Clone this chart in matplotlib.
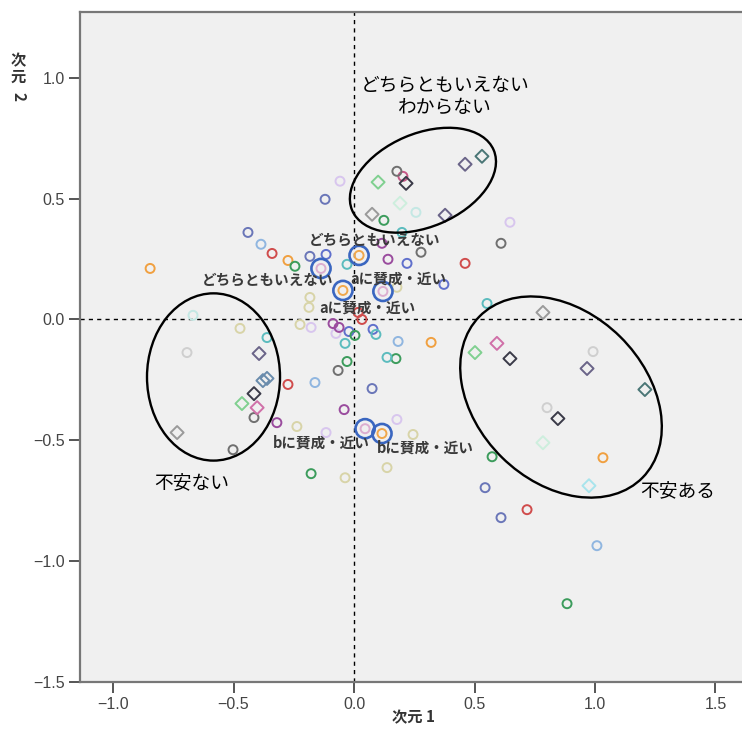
import matplotlib.pyplot as plt
from matplotlib.patches import Ellipse

plt.rcParams['font.family'] = ['Noto Sans CJK JP', 'DejaVu Sans']

# category points (dimension 1, dimension 2), grouped by variable colour
slate_x = [-0.120, -0.440, -0.183, 0.075, 0.544, 0.610]
slate_y = [0.497, 0.360, 0.261, -0.286, -0.696, -0.820]
blue_x = [-0.116, 0.220, 0.373, -0.021, 0.079]
blue_y = [0.269, 0.232, 0.145, -0.050, -0.041]
lightblue_x = [-0.386, -0.162, 0.183, 1.008]
lightblue_y = [0.311, -0.261, -0.091, -0.936]
red_x = [-0.340, 0.033, -0.274, 0.461, 0.718, 0.017]
red_y = [0.273, 0.000, -0.269, 0.232, -0.787, 0.029]
orange_x = [-0.274, -0.846, 0.320, 1.033]
orange_y = [0.244, 0.211, -0.095, -0.572]
green_x = [-0.245, 0.124, 0.004, -0.029, 0.174, -0.178, 0.573, 0.884]
green_y = [0.220, 0.410, -0.066, -0.174, -0.162, -0.638, -0.568, -1.176]
teal_x = [-0.029, -0.361, -0.037, 0.091, 0.137, 0.199, 0.552]
teal_y = [0.228, -0.075, -0.099, -0.062, -0.157, 0.360, 0.066]
paleteal_x = [-0.668, 0.257]
paleteal_y = [0.017, 0.443]
khaki_x = [-0.183, -0.187, -0.224, -0.473, -0.237, -0.037, 0.245, 0.137, 0.178]
khaki_y = [0.091, 0.050, -0.021, -0.037, -0.443, -0.655, -0.476, -0.613, 0.133]
lavender_x = [-0.058, -0.178, -0.075, -0.116, 0.178, 0.647]
lavender_y = [0.572, -0.033, -0.058, -0.468, -0.414, 0.402]
purple_x = [-0.087, -0.062, -0.041, -0.320, 0.116, 0.141]
purple_y = [-0.017, -0.033, -0.373, -0.427, 0.315, 0.249]
pink_x = [0.203]
pink_y = [0.592]
gray_x = [0.178, 0.278, 0.610, -0.066, -0.415, -0.502]
gray_y = [0.613, 0.278, 0.315, -0.211, -0.406, -0.539]
palegray_x = [-0.693, 0.992, 0.801]
palegray_y = [-0.137, -0.133, -0.365]

# diamonds
dark_dx = [0.216, -0.415, 0.647, 0.846]
dark_dy = [0.563, -0.307, -0.162, -0.410]
slate_dx = [-0.394, 0.378, 0.967, 0.461]
slate_dy = [-0.141, 0.431, -0.203, 0.642]
tealdark_dx = [0.531, 1.207]
tealdark_dy = [0.675, -0.290]
gray_dx = [0.075, 0.784, -0.734]
gray_dy = [0.435, 0.029, -0.468]
green_dx = [0.100, -0.465, 0.502]
green_dy = [0.568, -0.348, -0.137]
palegreen_dx = [0.191, 0.784]
palegreen_dy = [0.481, -0.510]
pink_dx = [-0.402, 0.593]
pink_dy = [-0.365, -0.099]
steel_dx = [-0.378, -0.361]
steel_dy = [-0.253, -0.244]
cyan_dx = [0.975]
cyan_dy = [-0.688]

# response categories of the supplementary variables (big rings)
ring_x = [-0.137, 0.021, -0.046, 0.120, 0.046, 0.116]
ring_y = [0.211, 0.265, 0.120, 0.116, -0.452, -0.472]
ring_inner = ['#dcaed0', '#f0a84c', '#f0a84c', '#dcaed0', '#dcaed0', '#f0a84c']
ring_labels = ['どちらともいえない', 'どちらともいえない', 'aに賛成・近い', 'aに賛成・近い',
               'bに賛成・近い', 'bに賛成・近い']
label_x = [-0.357, 0.087, 0.054, 0.183, -0.137, 0.295]
label_y = [0.166, 0.331, 0.050, 0.170, -0.510, -0.530]

circle_groups = [
    (slate_x, slate_y, '#6a76b8'),
    (blue_x, blue_y, '#6070cc'),
    (lightblue_x, lightblue_y, '#90b6e0'),
    (red_x, red_y, '#d04c4c'),
    (orange_x, orange_y, '#f0a040'),
    (green_x, green_y, '#3c9c5c'),
    (teal_x, teal_y, '#5cbcbe'),
    (paleteal_x, paleteal_y, '#c4e8e4'),
    (khaki_x, khaki_y, '#d8d4a8'),
    (lavender_x, lavender_y, '#d8c6ee'),
    (purple_x, purple_y, '#9a4c9e'),
    (pink_x, pink_y, '#c85888'),
    (gray_x, gray_y, '#707070'),
    (palegray_x, palegray_y, '#cfcfcf'),
]
diamond_groups = [
    (dark_dx, dark_dy, '#3a3a48'),
    (slate_dx, slate_dy, '#6a6488'),
    (tealdark_dx, tealdark_dy, '#4a7676'),
    (gray_dx, gray_dy, '#9a9a9a'),
    (green_dx, green_dy, '#80d090'),
    (palegreen_dx, palegreen_dy, '#cdeedd'),
    (pink_dx, pink_dy, '#d070a8'),
    (steel_dx, steel_dy, '#6a8cac'),
    (cyan_dx, cyan_dy, '#a8e4ec'),
]

fig = plt.figure(figsize=(7.42, 7.36), dpi=100)
ax = fig.add_axes([80 / 742, 54 / 736, 662 / 742, 670 / 736])
ax.set_facecolor('#f0f0f0')

ax.axhline(0, color='black', lw=1, ls=(0, (3, 3)), zorder=1)
ax.axvline(0, color='black', lw=1, ls=(0, (3, 3)), zorder=1)

for xs, ys, c in circle_groups:
    ax.scatter(xs, ys, s=42, marker='o', facecolors='none', edgecolors=c,
               linewidths=1.4, zorder=3)
for xs, ys, c in diamond_groups:
    ax.scatter(xs, ys, s=44, marker='D', facecolors='none', edgecolors=c,
               linewidths=1.4, zorder=3)

ax.scatter(ring_x, ring_y, s=42, marker='o', facecolors='none',
           edgecolors=ring_inner, linewidths=1.4, zorder=4)
ax.scatter(ring_x, ring_y, s=190, marker='o', facecolors='none',
           edgecolors='#3a66c0', linewidths=1.9, zorder=4)

for t, x, y in zip(ring_labels, label_x, label_y):
    ax.text(x, y, t, ha='center', va='center', fontsize=10.5,
            fontweight='bold', color='#3a3a3a', zorder=5)

# grouping ellipses
ax.add_patch(Ellipse((0.286, 0.576), 0.638, 0.386, angle=23,
                     fill=False, ec='black', lw=1.7, zorder=6))
ax.add_patch(Ellipse((-0.583, -0.238), 0.552, 0.692, angle=0,
                     fill=False, ec='black', lw=1.7, zorder=6))
ax.add_patch(Ellipse((0.859, -0.321), 0.950, 0.700, angle=-44.5,
                     fill=False, ec='black', lw=1.7, zorder=6))

ax.text(0.378, 0.924, 'どちらともいえない\nわからない', ha='center', va='center',
        fontsize=13.5, linespacing=1.1, color='black', zorder=6)
ax.text(-0.672, -0.675, '不安ない', ha='center', va='center', fontsize=13.5,
        color='black', zorder=6)
ax.text(1.344, -0.708, '不安ある', ha='center', va='center', fontsize=13.5,
        color='black', zorder=6)

ax.set_xlim(-1.137, 1.61)
ax.set_ylim(-1.5, 1.272)
ax.set_xticks([-1.0, -0.5, 0.0, 0.5, 1.0, 1.5])
ax.set_yticks([-1.5, -1.0, -0.5, 0.0, 0.5, 1.0])
ax.set_xticklabels(['\u22121.0', '\u22120.5', '0.0', '0.5', '1.0', '1.5'])
ax.set_yticklabels(['\u22121.5', '\u22121.0', '\u22120.5', '0.0', '0.5', '1.0'])
for lab in ax.get_xticklabels() + ax.get_yticklabels():
    lab.set_fontfamily('Liberation Sans')
    lab.set_fontsize(11.5)
    lab.set_color('#444444')
ax.tick_params(direction='out', length=8, width=1.4, color='#555555', pad=3)

for side in ['left', 'bottom', 'top']:
    ax.spines[side].set_color('#777777')
    ax.spines[side].set_linewidth(1.6)
ax.spines['right'].set_visible(False)

# axis titles (the vertical one is written top to bottom)
fig.text(414 / 742, 1 - 717 / 736, '次元 1', ha='center', va='center',
         fontsize=11, fontweight='bold', color='#333333')
fig.text(18 / 742, 1 - 60 / 736, '次', ha='center', va='center',
         fontsize=11, fontweight='bold', color='#333333')
fig.text(18 / 742, 1 - 77 / 736, '元', ha='center', va='center',
         fontsize=11, fontweight='bold', color='#333333')
fig.text(18 / 742, 1 - 96 / 736, '2', ha='center', va='center', rotation=270,
         fontsize=11, fontweight='bold', color='#333333')

fig.savefig('out.png', dpi=100)
